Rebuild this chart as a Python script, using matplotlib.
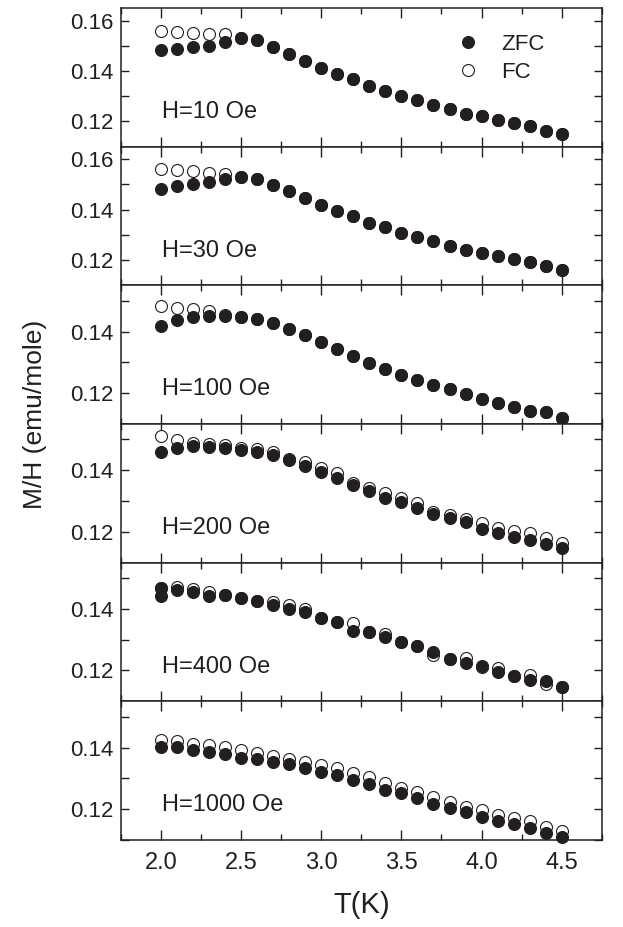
import numpy as np
import matplotlib
matplotlib.use("Agg")
import matplotlib.pyplot as plt
from matplotlib.ticker import MultipleLocator, FormatStrFormatter

# Temperature points (K)
T = [2.0, 2.1, 2.2, 2.3, 2.4, 2.5, 2.6, 2.7, 2.8, 2.9, 3.0, 3.1, 3.2,
     3.3, 3.4, 3.5, 3.6, 3.7, 3.8, 3.9, 4.0, 4.1, 4.2, 4.3, 4.4, 4.5]

fields = ["H=10 Oe", "H=30 Oe", "H=100 Oe", "H=200 Oe", "H=400 Oe", "H=1000 Oe"]

zfc_10 = [0.1483, 0.1486, 0.1496, 0.1500, 0.1514, 0.1532, 0.1523, 0.1494, 0.1467, 0.1439,
          0.1410, 0.1390, 0.1367, 0.1341, 0.1321, 0.1301, 0.1284, 0.1264, 0.1250, 0.1231,
          0.1220, 0.1207, 0.1193, 0.1180, 0.1164, 0.1151]
fc_10 = [0.1560, 0.1556, 0.1552, 0.1548, 0.1545, 0.1532, 0.1523, 0.1494, 0.1467, 0.1439,
         0.1410, 0.1390, 0.1367, 0.1341, 0.1321, 0.1301, 0.1284, 0.1264, 0.1250, 0.1231,
         0.1220, 0.1207, 0.1193, 0.1180, 0.1164, 0.1151]

zfc_30 = [0.1483, 0.1492, 0.1500, 0.1510, 0.1520, 0.1530, 0.1520, 0.1499, 0.1474, 0.1446,
          0.1419, 0.1393, 0.1373, 0.1347, 0.1330, 0.1306, 0.1293, 0.1274, 0.1257, 0.1241,
          0.1228, 0.1217, 0.1204, 0.1191, 0.1175, 0.1161]
fc_30 = [0.1563, 0.1556, 0.1552, 0.1547, 0.1543, 0.1530, 0.1520, 0.1499, 0.1474, 0.1446,
         0.1419, 0.1393, 0.1373, 0.1347, 0.1330, 0.1306, 0.1293, 0.1274, 0.1257, 0.1241,
         0.1228, 0.1217, 0.1204, 0.1191, 0.1175, 0.1161]

zfc_100 = [0.1419, 0.1438, 0.1446, 0.1451, 0.1451, 0.1446, 0.1440, 0.1429, 0.1409, 0.1390,
           0.1366, 0.1343, 0.1320, 0.1298, 0.1279, 0.1259, 0.1242, 0.1227, 0.1213, 0.1197,
           0.1181, 0.1168, 0.1156, 0.1143, 0.1138, 0.1119]
fc_100 = [0.1483, 0.1475, 0.1472, 0.1467, 0.1455, 0.1446, 0.1440, 0.1429, 0.1409, 0.1390,
          0.1366, 0.1343, 0.1320, 0.1298, 0.1279, 0.1259, 0.1242, 0.1227, 0.1213, 0.1197,
          0.1181, 0.1168, 0.1156, 0.1143, 0.1138, 0.1119]

zfc_200 = [0.1459, 0.1473, 0.1479, 0.1475, 0.1472, 0.1467, 0.1459, 0.1449, 0.1432, 0.1414,
           0.1395, 0.1374, 0.1352, 0.1331, 0.1311, 0.1296, 0.1277, 0.1259, 0.1245, 0.1232,
           0.1209, 0.1197, 0.1183, 0.1175, 0.1161, 0.1146]
fc_200 = [0.1511, 0.1497, 0.1489, 0.1486, 0.1483, 0.1472, 0.1468, 0.1459, 0.1436, 0.1427,
          0.1408, 0.1390, 0.1357, 0.1343, 0.1325, 0.1309, 0.1293, 0.1263, 0.1256, 0.1243,
          0.1229, 0.1213, 0.1202, 0.1197, 0.1181, 0.1165]

zfc_400 = [0.1443, 0.1460, 0.1455, 0.1442, 0.1444, 0.1436, 0.1425, 0.1412, 0.1401, 0.1390,
           0.1371, 0.1358, 0.1328, 0.1324, 0.1308, 0.1294, 0.1281, 0.1261, 0.1238, 0.1224,
           0.1216, 0.1195, 0.1181, 0.1170, 0.1165, 0.1145]
fc_400 = [0.1469, 0.1472, 0.1466, 0.1456, 0.1444, 0.1436, 0.1425, 0.1423, 0.1412, 0.1399,
          0.1371, 0.1358, 0.1353, 0.1324, 0.1317, 0.1294, 0.1281, 0.1251, 0.1238, 0.1240,
          0.1210, 0.1208, 0.1181, 0.1186, 0.1156, 0.1145]
# repeated ZFC reading at 2.0 K in the 400 Oe run
zfc_400_extra_T = [2.0]
zfc_400_extra = [0.1469]

zfc_1000 = [0.1401, 0.1401, 0.1391, 0.1385, 0.1380, 0.1366, 0.1362, 0.1353, 0.1345, 0.1332,
            0.1321, 0.1310, 0.1296, 0.1281, 0.1262, 0.1251, 0.1235, 0.1217, 0.1203, 0.1192,
            0.1176, 0.1163, 0.1151, 0.1138, 0.1122, 0.1108]
fc_1000 = [0.1423, 0.1420, 0.1412, 0.1407, 0.1401, 0.1391, 0.1382, 0.1374, 0.1364, 0.1353,
           0.1342, 0.1332, 0.1318, 0.1303, 0.1285, 0.1269, 0.1256, 0.1238, 0.1224, 0.1208,
           0.1197, 0.1181, 0.1171, 0.1160, 0.1141, 0.1130]

zfc_all = [zfc_10, zfc_30, zfc_100, zfc_200, zfc_400, zfc_1000]
fc_all = [fc_10, fc_30, fc_100, fc_200, fc_400, fc_1000]
ylims = [(0.11, 0.165), (0.11, 0.165), (0.11, 0.155),
         (0.11, 0.155), (0.11, 0.155), (0.11, 0.155)]

INK = "#231f20"
plt.rcParams.update({
    "font.family": ["Liberation Sans", "DejaVu Sans"],
    "axes.linewidth": 1.1,
    "axes.edgecolor": INK,
    "xtick.color": INK,
    "ytick.color": INK,
    "text.color": INK,
})

fig, axes = plt.subplots(6, 1, figsize=(6.23, 9.27), dpi=100, sharex=True)
fig.subplots_adjust(left=0.194, right=0.966, top=0.9914, bottom=0.0939, hspace=0)

ms = 8.6
for i, ax in enumerate(axes):
    ax.plot(T, fc_all[i], linestyle="none", marker="o", ms=ms, mfc="white",
            mec=INK, mew=0.8, zorder=2, label="FC")
    ax.plot(T, zfc_all[i], linestyle="none", marker="o", ms=ms, mfc=INK,
            mec=INK, mew=0.8, zorder=3, label="ZFC", clip_on=False)
    if i == 4:
        ax.plot(zfc_400_extra_T, zfc_400_extra, linestyle="none", marker="o", ms=ms,
                mfc=INK, mec=INK, mew=0.8, zorder=3)

    ax.set_xlim(1.75, 4.75)
    ax.set_ylim(*ylims[i])
    ax.xaxis.set_major_locator(MultipleLocator(0.5))
    ax.xaxis.set_minor_locator(MultipleLocator(0.25))
    ax.yaxis.set_major_locator(MultipleLocator(0.02))
    ax.yaxis.set_minor_locator(MultipleLocator(0.01))
    ax.yaxis.set_major_formatter(FormatStrFormatter("%.2f"))
    ax.tick_params(which="both", direction="in", top=True, right=True, width=1.0)
    ax.tick_params(axis="x", which="major", length=7, labelsize=17, pad=9)
    ax.tick_params(axis="x", which="minor", length=4)
    ax.tick_params(axis="y", which="both", length=6, labelsize=16, pad=5)

    ax.text(0.085, 0.25, fields[i], transform=ax.transAxes, fontsize=17,
            ha="left", va="center")

# legend in the top panel: ZFC first, FC second
h, l = axes[0].get_legend_handles_labels()
axes[0].legend([h[1], h[0]], [l[1], l[0]], loc="upper left",
               bbox_to_anchor=(0.675, 0.875), frameon=False, fontsize=16,
               handletextpad=0.9, labelspacing=0.3, borderaxespad=0,
               handlelength=1.2)

fig.text(0.056, 0.553, "M/H (emu/mole)", rotation=90, ha="center", va="center",
         fontsize=19)
fig.text(0.58, 0.024, "T(K)", ha="center", va="center", fontsize=21)

fig.savefig("out.png", dpi=100)
